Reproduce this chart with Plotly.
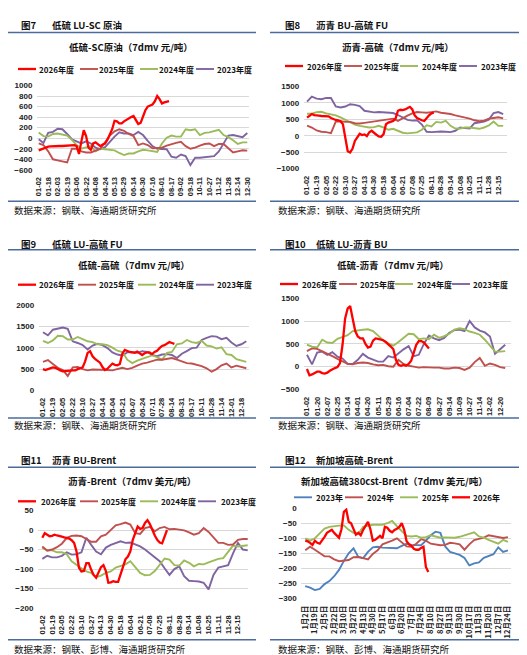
import plotly.graph_objects as go

W, H = 527, 655

C2026 = "#FF0000"
C2025 = "#C0504D"
C2024 = "#9BBB59"
C2023 = "#8064A2"
CBLUE = "#4F81BD"
RULE = "#4A6B9C"
CJK = "Noto Sans CJK SC"
NUM = "Liberation Sans"

# ---- tick labels ----
ticks_7 = ["01-02", "01-18", "02-03", "02-19", "03-06", "03-22", "04-08", "04-24",
           "05-13", "05-29", "06-14", "06-30", "07-16", "08-01", "08-17", "09-02",
           "09-18", "10-11", "10-27", "11-12", "11-28", "12-14", "12-30"]
ticks_8 = ["01-02", "01-19", "02-05", "02-22", "03-10", "03-27", "04-13", "04-30",
           "05-18", "06-04", "06-21", "07-08", "07-25", "08-11", "08-28", "09-14",
           "10-08", "10-25", "11-11", "11-28", "12-15"]
ticks_9 = ["01-02", "01-19", "02-05", "02-22", "03-10", "03-27", "04-14", "05-04",
           "05-21", "06-07", "06-24", "07-11", "07-28", "08-14", "08-31", "09-17",
           "10-11", "10-28", "11-14", "12-01", "12-18"]
ticks_10 = ["01-02", "01-20", "02-07", "02-25", "03-14", "04-01", "04-20", "05-11",
            "05-29", "06-16", "07-04", "07-22", "08-09", "08-27", "09-14", "10-09",
            "10-27", "11-14", "12-02", "12-20"]
ticks_11 = ticks_8
ticks_12 = ["1月2日", "1月19日", "2月5日", "2月22日", "3月10日", "3月27日", "4月13日",
            "4月30日", "5月17日", "6月3日", "6月20日", "7月7日", "7月24日", "8月10日",
            "8月27日", "9月13日", "9月30日", "10月17日", "11月3日", "11月20日",
            "12月7日", "12月24日"]

# ---- series (2026 sampled every quarter tick, others every half tick) ----
p7_2026 = [-230, -210, -185, -170, -160, -155, -150, -150, -148, -148, -148, -145, -145, -140,
           -140, -130, -150, -300, -60, 150, 40, -180, -220, -100, -80, -120, -150, -120, -100,
           -30, 60, 170, 330, 320, 280, 280, 320, 350, 370, 400, 420, 340, 270, 290, 420, 530,
           600, 620, 640, 700, 800, 740, 660, 680, 690, 705]
p7_2025 = [-100, -130, -250, -400, -420, -440, -460, -200, -200, -250, -270, -270, -230, -200,
           -80, 50, 130, 170, 140, 80, 40, -130, -100, -130, -190, -190, -180, -140, -110, -90,
           -70, -150, -200, -180, -140, -110, -100, -150, -110, -110, -190, -270, -250, -230, -235]
p7_2024 = [110, 40, 30, 80, 90, 70, 50, -30, -130, -200, -170, -150, -250, -200, -210, -220,
           -230, -280, -320, -290, -290, -250, -220, -230, -240, -260, -100, 10, 50, 30, 30, 170,
           150, 170, 60, 100, 110, 140, 160, 60, 20, -40, -110, -80, -80]
p7_2023 = [-20, -90, 100, 120, 180, 170, 80, -20, -60, -100, -60, -100, -180, -210, -170, -60,
           30, 110, 90, 90, 60, 120, 60, -50, -150, -200, -200, -210, -350, -370, -310, -340,
           -510, -370, -370, -360, -360, -340, -250, -100, 50, 60, 40, 20, 100]

p8_2026 = [550, 620, 660, 630, 610, 610, 600, 600, 600, 590, 540, 500, 480, 470, 440, 350, -100,
           -470, -510, -400, -160, -60, 60, 20, 40, -10, 100, 150, 80, 30, -20, -30, 50, 350, 400,
           420, 450, 520, 760, 790, 780, 800, 840, 880, 800, 620, 540, 500, 470, 450, 540, 620,
           680, 700]
p8_2025 = [310, 250, 160, 120, 110, 80, 430, 440, 420, 420, 380, 370, 390, 410, 440, 470, 490,
           490, 520, 450, 540, 610, 680, 720, 710, 700, 720, 740, 700, 690, 660, 620, 590, 550,
           520, 470, 440, 460, 520, 540, 560, 530]
p8_2024 = [670, 670, 720, 730, 680, 660, 620, 560, 480, 400, 340, 300, 280, 250, 260, 300, 250,
           180, 210, 140, 90, 70, 80, 100, 180, 320, 280, 420, 400, 450, 300, 220, 220, 250, 250,
           230, 210, 250, 310, 430, 300, 300]
p8_2023 = [1040, 1190, 1130, 1110, 1150, 1150, 890, 860, 890, 960, 940, 900, 760, 740, 710, 720,
           710, 710, 690, 630, 550, 480, 460, 470, 340, 120, 110, 130, 130, 120, 110, 150, 250,
           230, 220, 380, 400, 430, 490, 690, 720, 660]

p9_2026 = [500, 480, 500, 520, 540, 530, 490, 470, 450, 460, 465, 465, 470, 470, 500, 520, 540,
           680, 880, 920, 800, 740, 700, 650, 550, 480, 510, 580, 630, 600, 590, 620, 860, 950,
           920, 900, 890, 880, 910, 860, 830, 870, 890, 890, 850, 900, 930, 990, 1040, 1060, 1100,
           1130, 1110, 1090]
p9_2025 = [670, 710, 620, 530, 480, 340, 540, 550, 500, 470, 490, 490, 480, 480, 470, 500, 530,
           500, 530, 580, 630, 650, 680, 720, 720, 740, 760, 720, 680, 640, 630, 600, 570, 520,
           440, 500, 590, 630, 540, 580, 550, 520]
p9_2024 = [1160, 1110, 1170, 1280, 1270, 1190, 1190, 1250, 1200, 1150, 1130, 1080, 1080, 1060,
           1000, 930, 900, 720, 640, 700, 740, 780, 820, 780, 720, 880, 900, 1080, 1100, 1180,
           1130, 1110, 1160, 1050, 1030, 980, 1010, 850, 830, 730, 700, 670]
p9_2023 = [1360, 1290, 1420, 1440, 1470, 1440, 1150, 1110, 1060, 960, 1050, 1090, 1060, 990, 890,
           840, 820, 890, 900, 880, 920, 900, 830, 800, 840, 850, 830, 760, 860, 920, 990, 1000,
           1180, 1230, 1270, 1260, 1200, 1230, 1120, 1040, 1080, 1150]

p10_2026 = [-50, -190, -170, -130, -110, -110, -140, -150, -130, -90, -50, -30, -10, 80, 480, 1050,
            1270, 1330, 1050, 780, 660, 620, 620, 500, 420, 440, 570, 620, 610, 600, 580, 540, 500,
            440, 380, 150, 40, 20, 40, 20, 60, 130, 300, 480, 560, 560, 530, 470, 400]
p10_2025 = [340, 400, 390, 340, 290, 230, 170, 110, 60, 50, 80, 90, 80, 50, 30, 40, 10, 0, 150,
            60, 20, 0, -20, -10, -20, -20, -20, -40, -40, -20, -30, -70, -20, 100, 190, 20, 70,
            40, -10, -30]
p10_2024 = [480, 440, 420, 590, 530, 520, 610, 650, 690, 780, 800, 810, 820, 780, 680, 580, 510,
            460, 540, 640, 720, 710, 600, 620, 600, 700, 630, 670, 720, 810, 840, 820, 770, 740,
            700, 590, 470, 330, 330, 340]
p10_2023 = [260, 50, 310, 330, 260, 320, 220, 180, 60, 60, 150, 280, 200, 150, 110, 110, 230, 200,
            300, 380, 450, 230, 260, 500, 680, 620, 580, 630, 740, 800, 810, 780, 1000, 860, 790,
            750, 660, 280, 380, 480]

p11_2026 = [-20, -8, -12, -16, -15, -12, -14, -15, -17, -19, -20, -22, -26, -33, -55, -97, -106,
            -105, -85, -85, -102, -115, -122, -110, -95, -90, -105, -135, -134, -131, -133, -133,
            -115, -95, -75, -68, -55, -25, -5, 9, 3, 5, 18, 25, 15, -2, -14, -25, -32, -34, -16, 0]
p11_2025 = [-42, -53, -50, -44, -35, -20, -15, -14, -16, -22, -30, -30, -16, -12, -1, 12, 15, 19,
            14, -8, -10, 5, 8, -3, 5, 8, 2, 3, 1, -1, -6, -12, -8, 5, -5, -18, -33, -33, -38, -37,
            -25, -23, -23]
p11_2024 = [-45, -52, -52, -57, -57, -62, -80, -90, -98, -106, -110, -121, -117, -110, -106, -96,
            -91, -88, -80, -95, -110, -116, -115, -105, -88, -73, -76, -90, -91, -78, -84, -93,
            -87, -88, -83, -78, -74, -72, -55, -40, -42, -41, -39]
p11_2023 = [-74, -66, -70, -70, -66, -57, -63, -62, -57, -20, -38, -55, -62, -45, -38, -34, -29,
            -33, -32, -37, -42, -50, -60, -68, -80, -98, -115, -100, -93, -118, -130, -131, -132,
            -135, -152, -115, -96, -93, -90, -60, -33, -50, -52]

p12_2023 = [-259, -264, -272, -268, -252, -242, -226, -205, -175, -150, -133, -162, -166, -145,
            -130, -128, -131, -132, -133, -133, -125, -118, -122, -123, -123, -108, -90, -78, -82,
            -127, -145, -150, -155, -165, -190, -183, -180, -165, -160, -153, -130, -145, -140]
p12_2024 = [-140, -128, -138, -150, -160, -160, -170, -176, -175, -172, -163, -162, -166, -170,
            -152, -140, -120, -115, -108, -100, -115, -127, -128, -118, -103, -108, -118, -121,
            -123, -122, -115, -117, -120, -138, -120, -106, -102, -98, -90, -93, -94, -99, -96]
p12_2025 = [-100, -108, -100, -85, -68, -62, -59, -58, -57, -72, -82, -85, -62, -58, -55, -55,
            -55, -50, -42, -60, -75, -92, -94, -92, -98, -96, -90, -95, -98, -97, -97, -98, -95,
            -90, -85, -80, -94, -98, -105, -112, -118, -105, -112]
p12_2026 = [-108, -110, -115, -122, -108, -115, -118, -108, -95, -82, -76, -72, -82, -90, -98, -70,
            -12, -5, -45, -50, -68, -88, -82, -90, -72, -60, -45, -70, -108, -105, -98, -92, -100,
            -62, -65, -75, -80, -72, -68, -62, -50, -72, -110, -120, -125, -135, -138, -138, -132,
            -128, -195, -212]

yr = ["2026年度", "2025年度", "2024年度", "2023年度"]
src_a = "数据来源：钢联、海通期货研究所"
src_b = "数据来源：钢联、彭博、海通期货研究所"

panels = [
    dict(no="图7", name="低硫 LU-SC 原油", title="低硫-SC原油（7dmv 元/吨）", src=src_a, col=0,
         head=16.5, rule=24.5, tpos=(123, 39.3), leg=61, lx=[10, 72, 132, 188], tx=[29, 89, 149, 207],
         px=(29, 240.7), py=(77.3, 162), xr=(-0.18, 22.15), yr=(-600, 1000), dt=200,
         bottom=193.3, srcy=201.7, ticks=ticks_7,
         series=[(yr[0], C2026, 0.25, p7_2026), (yr[1], C2025, 0.5, p7_2025),
                 (yr[2], C2024, 0.5, p7_2024), (yr[3], C2023, 0.5, p7_2023)]),
    dict(no="图8", name="沥青 BU-高硫 FU", title="沥青-高硫（7dmv 元/吨）", src=src_a, col=264,
         head=16.5, rule=24.5, tpos=(390, 39.3), leg=58, lx=[277, 336, 392, 451], tx=[297, 354, 412, 471],
         px=(295.7, 499), py=(78.3, 160.7), xr=(-0.35, 20.9), yr=(-1000, 1500), dt=500,
         bottom=193.3, srcy=201.7, ticks=ticks_8,
         series=[(yr[0], C2026, 0.25, p8_2026), (yr[1], C2025, 0.5, p8_2025),
                 (yr[2], C2024, 0.5, p8_2024), (yr[3], C2023, 0.5, p8_2023)]),
    dict(no="图9", name="低硫 LU-高硫 FU", title="低硫-高硫（7dmv 元/吨）", src=src_a, col=0,
         head=235.7, rule=241.7, tpos=(126, 257.3), leg=276.7, lx=[10, 70, 130, 188], tx=[29, 89, 149, 207],
         px=(30.7, 240.7), py=(296.7, 382.7), xr=(-0.43, 20.74), yr=(0, 2000), dt=500,
         bottom=410, srcy=417.3, ticks=ticks_9,
         series=[(yr[0], C2026, 0.25, p9_2026), (yr[1], C2025, 0.5, p9_2025),
                 (yr[2], C2024, 0.5, p9_2024), (yr[3], C2023, 0.5, p9_2023)]),
    dict(no="图10", name="低硫 LU-沥青 BU", title="低硫-沥青（7dmv 元/吨）", src=src_a, col=264,
         head=235.7, rule=241.7, tpos=(385, 257.3), leg=276, lx=[272, 331, 387, 444], tx=[292, 350, 407, 463],
         px=(295.7, 503.3), py=(290, 381.7), xr=(-0.32, 20.1), yr=(-500, 1500), dt=500,
         bottom=410, srcy=417.3, ticks=ticks_10,
         series=[(yr[0], C2026, 0.25, p10_2026), (yr[1], C2025, 0.5, p10_2025),
                 (yr[2], C2024, 0.5, p10_2024), (yr[3], C2023, 0.5, p10_2023)]),
    dict(no="图11", name="沥青 BU-Brent", title="沥青-Brent（7dmv 美元/吨）", src=src_b, col=0,
         head=452.3, rule=459.3, tpos=(123.5, 473.3), leg=493.3, lx=[10, 72, 132, 190], tx=[31, 91, 151, 211],
         px=(30, 240), py=(502.3, 600.3), xr=(-0.44, 21.03), yr=(-200, 50), dt=50,
         bottom=631.7, srcy=640.7, ticks=ticks_11,
         series=[(yr[0], C2026, 0.25, p11_2026), (yr[1], C2025, 0.5, p11_2025),
                 (yr[2], C2024, 0.5, p11_2024), (yr[3], C2023, 0.5, p11_2023)]),
    dict(no="图12", name="新加坡高硫-Brent", title="新加坡高硫380cst-Brent（7dmv 美元/吨）", src=src_b, col=264,
         head=452.3, rule=459.3, tpos=(386, 473.3), leg=489.3, lx=[286, 337, 392, 444], tx=[306, 357, 412, 463],
         px=(293.3, 503.3), py=(500, 590.7), xr=(-0.41, 21.35), yr=(-300, 0), dt=50,
         bottom=631.7, srcy=640.7, ticks=ticks_12,
         series=[("2023年", CBLUE, 0.5, p12_2023), ("2024年", C2025, 0.5, p12_2024),
                 ("2025年", C2024, 0.5, p12_2025), ("2026年", C2026, 0.25, p12_2026)]),
]


def fx(x):
    return x / W


def fy(y):
    return 1 - y / H


fig = go.Figure()
shapes = []
annos = []
layout = {}

for k, p in enumerate(panels, start=1):
    xa, ya = ("x%d" % k, "y%d" % k)
    # older years first so the 2026 line sits on top
    order = p["series"] if k == 6 else list(reversed(p["series"]))
    for name, color, step, vals in order:
        fig.add_trace(go.Scatter(
            x=[i * step for i in range(len(vals))], y=vals, mode="lines", name=name,
            line=dict(color=color, width=2.3 if color == C2026 else 1.9),
            xaxis=xa, yaxis=ya, showlegend=False, hoverinfo="skip"))

    layout["xaxis%d" % k] = dict(
        domain=[fx(p["px"][0]), fx(p["px"][1])], range=list(p["xr"]), anchor=ya,
        tickmode="array", tickvals=list(range(len(p["ticks"]))), ticktext=p["ticks"],
        tickangle=-90, showgrid=False, zeroline=False, showline=False,
        ticks="outside", ticklen=3, tickcolor="rgba(0,0,0,0)",
        tickfont=dict(family=CJK if k == 6 else NUM, size=7.5, color="#222222", weight="bold"),
        automargin=False, fixedrange=True)
    layout["yaxis%d" % k] = dict(
        domain=[fy(p["py"][1]), fy(p["py"][0])],
        range=[p["yr"][0] - 0.002 * (p["yr"][1] - p["yr"][0]), p["yr"][1] + 0.002 * (p["yr"][1] - p["yr"][0])],
        anchor=xa, dtick=p["dt"], tick0=0, showgrid=True, gridcolor="#D9D9D9", gridwidth=1,
        zeroline=False, showline=False, ticks="outside", ticklen=2, tickcolor="rgba(0,0,0,0)",
        tickfont=dict(family=NUM, size=8, color="#222222", weight="bold"),
        automargin=False, fixedrange=True)

    c = p["col"]
    x0, x1 = (0, 248) if c == 0 else (262, 513)
    for yy in (p["rule"], p["bottom"]):
        shapes.append(dict(type="line", xref="paper", yref="paper", x0=fx(x0), x1=fx(x1),
                           y0=fy(yy), y1=fy(yy), line=dict(color=RULE, width=1.6)))
    annos.append(dict(text="<b>%s</b>" % p["no"], x=fx(c + 11), y=fy(p["head"]), xanchor="left",
                      font=dict(family=CJK, size=9.5, color="#111111")))
    annos.append(dict(text="<b>%s</b>" % p["name"], x=fx(c + 42), y=fy(p["head"]), xanchor="left",
                      font=dict(family=CJK, size=9.5, color="#111111")))
    annos.append(dict(text="<b>%s</b>" % p["title"], x=fx(p["tpos"][0]), y=fy(p["tpos"][1]),
                      xanchor="center", font=dict(family=CJK, size=9.5, color="#111111")))
    annos.append(dict(text=p["src"], x=fx(c + 4), y=fy(p["srcy"]), xanchor="left",
                      font=dict(family=CJK, size=9.5, color="#111111")))
    for (name, color, step, vals), lx, tx in zip(p["series"], p["lx"], p["tx"]):
        shapes.append(dict(type="line", xref="paper", yref="paper", x0=fx(lx), x1=fx(lx + 18),
                           y0=fy(p["leg"]), y1=fy(p["leg"]),
                           line=dict(color=color, width=2.3 if color == C2026 else 1.9)))
        annos.append(dict(text="<b>%s</b>" % name, x=fx(tx), y=fy(p["leg"]), xanchor="left",
                          font=dict(family=CJK, size=8, color="#111111")))

for a in annos:
    a.update(xref="paper", yref="paper", yanchor="middle", showarrow=False)

fig.update_layout(
    width=W, height=H, margin=dict(l=0, r=0, t=0, b=0), template="none",
    paper_bgcolor="white", plot_bgcolor="white", showlegend=False,
    shapes=shapes, annotations=annos, **layout)

fig.write_html("out.html")
